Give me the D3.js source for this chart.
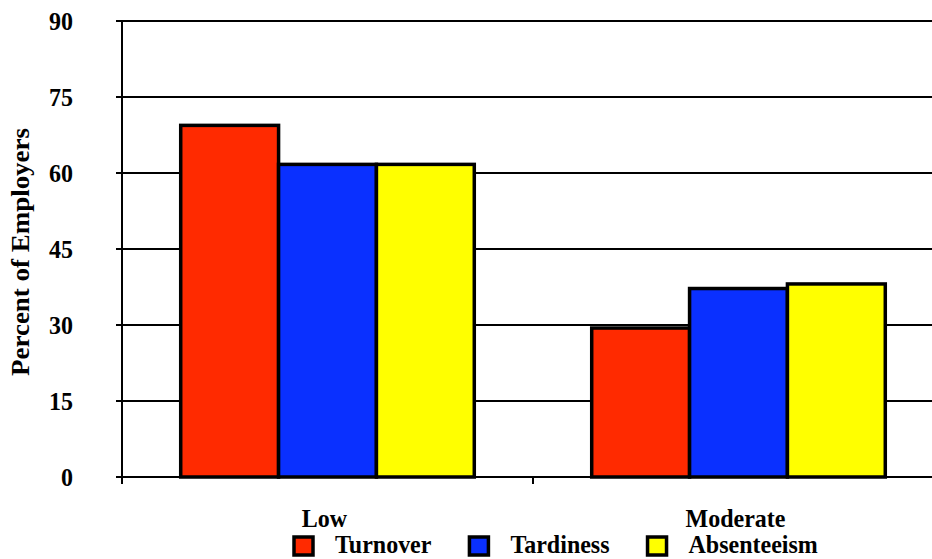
<!DOCTYPE html>
<html>
<head>
<meta charset="utf-8">
<script src="https://cdn.jsdelivr.net/npm/d3@7"></script>
<style>
  html, body { margin: 0; padding: 0; background: #fff; }
  svg { display: block; }
  text { font-family: "Liberation Serif", "Times New Roman", serif; font-weight: bold; fill: #000; }
</style>
</head>
<body>
<svg id="chart" width="932" height="559"></svg>
<script>
// Employer ratings by level, one bar per problem area
const categories = ["Low", "Moderate"];
const seriesNames = ["Turnover", "Tardiness", "Absenteeism"];
const turnover = [69.4, 29.4];
const tardiness = [61.7, 37.2];
const absenteeism = [61.7, 38.1];
const yTicks = [0, 15, 30, 45, 60, 75, 90];
const seriesColors = ["#ff2a00", "#0a30ff", "#ffff00"];

const seriesValues = [turnover, tardiness, absenteeism];
const rows = categories.map((c, i) => ({
  category: c,
  bars: seriesNames.map((s, j) => ({ series: s, value: seriesValues[j][i], color: seriesColors[j] }))
}));

const svg = d3.select("#chart");
const W = 932;
const plotLeft = 122, plotBottom = 477, plotTop = 21, plotRight = 944;
const tall = "scale(1,1.07)";   // slightly tall lettering

const y = d3.scaleLinear().domain([0, 90]).range([plotBottom, plotTop]);
const x0 = d3.scaleBand().domain(categories).range([plotLeft, plotRight]).padding(0);
const x1 = d3.scaleBand().domain(seriesNames).range([0, x0.bandwidth()])
  .paddingInner(0).paddingOuter(0.6);

// Horizontal gridlines (with short tick stubs left of the axis)
svg.append("g").selectAll("line")
  .data(yTicks.filter(t => t > 0))
  .join("line")
  .attr("x1", plotLeft - 6).attr("x2", W)
  .attr("y1", d => y(d)).attr("y2", d => y(d))
  .attr("stroke", "#000").attr("stroke-width", 2);

// Y axis labels
const yAxis = d3.axisLeft(y).tickValues(yTicks).tickSize(0).tickPadding(49);
const gy = svg.append("g").attr("transform", `translate(${plotLeft},0)`).call(yAxis);
gy.select(".domain").remove();
gy.selectAll("text")
  .attr("font-size", 24)
  .attr("font-family", '"Liberation Serif", "Times New Roman", serif')
  .attr("font-weight", "bold")
  .attr("fill", "#000")
  .attr("dy", "0.33em")
  .attr("transform", tall);

// Bars
const groups = svg.append("g").selectAll("g")
  .data(rows)
  .join("g")
  .attr("transform", d => `translate(${x0(d.category)},0)`);

groups.selectAll("rect")
  .data(d => d.bars)
  .join("rect")
  .attr("x", d => x1(d.series))
  .attr("width", x1.bandwidth())
  .attr("y", d => y(d.value))
  .attr("height", d => y(0) - y(d.value))
  .attr("fill", d => d.color)
  .attr("stroke", "#000")
  .attr("stroke-width", 3.5);

// Vertical axis line
svg.append("line")
  .attr("x1", plotLeft).attr("x2", plotLeft)
  .attr("y1", y(90)).attr("y2", plotBottom + 6)
  .attr("stroke", "#000").attr("stroke-width", 2);

// Horizontal axis line with tick marks at category boundaries
svg.append("line")
  .attr("x1", plotLeft - 6).attr("x2", W)
  .attr("y1", plotBottom).attr("y2", plotBottom)
  .attr("stroke", "#000").attr("stroke-width", 2);
svg.append("g").selectAll("line")
  .data(categories)
  .join("line")
  .attr("x1", d => x0(d)).attr("x2", d => x0(d))
  .attr("y1", plotBottom).attr("y2", plotBottom + 7)
  .attr("stroke", "#000").attr("stroke-width", 2);

// Category labels
svg.append("g").selectAll("g")
  .data(categories)
  .join("g")
  .attr("transform", d => `translate(${x0(d) + x0.bandwidth() / 2 - 3},527)`)
  .append("text")
  .attr("transform", tall)
  .attr("text-anchor", "middle")
  .attr("font-size", 24)
  .text(d => d);

// Y axis title
svg.append("text")
  .attr("transform", "translate(29,252) rotate(-90) scale(1,1.05)")
  .attr("text-anchor", "middle")
  .attr("font-size", 24)
  .attr("textLength", 248)
  .attr("lengthAdjust", "spacingAndGlyphs")
  .text("Percent of Employers");

// Legend
const legend = svg.append("g");
let lx = 294;
seriesNames.forEach((name, i) => {
  legend.append("rect")
    .attr("x", lx).attr("y", 537)
    .attr("width", 19).attr("height", 18)
    .attr("fill", seriesColors[i])
    .attr("stroke", "#000").attr("stroke-width", 3.5);
  const t = legend.append("g")
    .attr("transform", `translate(${lx + 41},553)`)
    .append("text")
    .attr("transform", tall)
    .attr("font-size", 24)
    .text(name);
  lx = lx + 41 + t.node().getComputedTextLength() + 38;
});
</script>
</body>
</html>
